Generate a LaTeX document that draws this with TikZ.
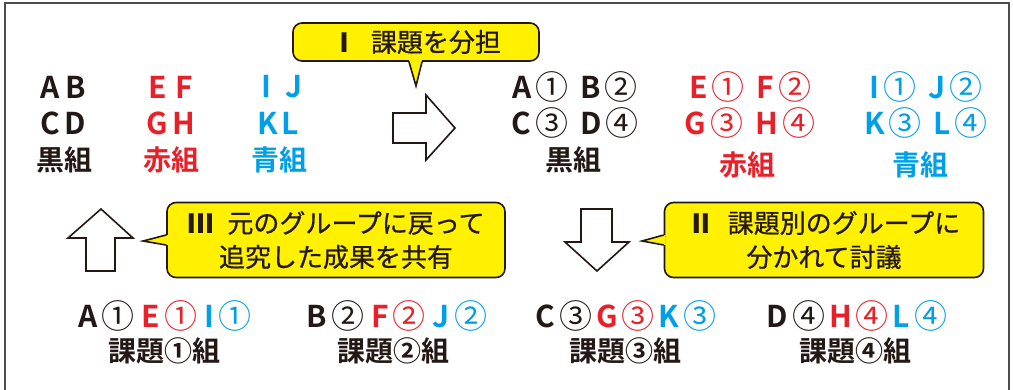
\documentclass[tikz,border=0pt]{standalone}
\usepackage{fontspec}
\setmainfont{Noto Sans CJK JP}[BoldFont={Noto Sans CJK JP Bold}]
\newfontfamily\chuu{Noto Sans CJK JP}[FakeBold=0.6]
\definecolor{kuro}{HTML}{231815}
\definecolor{akairo}{HTML}{E8202A}
\definecolor{aoiro}{HTML}{00A0E9}
\definecolor{kiiro}{HTML}{FFF100}
\definecolor{waku}{HTML}{4D4D4D}
\newcommand{\maru}[1]{\hspace{4pt}\raisebox{-1.5pt}{\fontsize{33}{33}\selectfont\mdseries #1}}
\newcommand{\aka}[1]{\textcolor{akairo}{#1}}
\newcommand{\ao}[1]{\textcolor{aoiro}{#1}}
\newcommand{\bango}[1]{{\bfseries #1}\hspace{14pt}}
\usetikzlibrary{positioning}

\begin{document}
\begin{tikzpicture}[x=1pt,y=-1pt,
  moji/.style={font=\fontsize{30}{32}\selectfont\bfseries, text=kuro, inner sep=0pt},
  kumi/.style={font=\fontsize{28}{30}\selectfont\bfseries, text=kuro, inner sep=0pt},
  fukidashi/.style={draw=kuro, line width=1.6pt, fill=kiiro, rounded corners=9pt,
    font=\fontsize{26}{34}\selectfont\chuu, text=kuro, align=center, inner sep=0pt},
  yajirushi/.style={draw=kuro, line width=1.6pt, fill=white, line join=miter}]
  \useasboundingbox (0,0) rectangle (1013,389);
  \draw[waku, line width=2.5pt] (5,400) |- (1009,3) -- (1009,400);

  % before: three colour groups
  \node[moji] (ab) at (63,87) {A\hspace{6pt}B};
  \node[moji] (cd) at (63,123) {C\hspace{4pt}D};
  \node[kumi] (kuro1) at (64,160) {黒組};
  \node[moji, text=akairo] (ef) at (171,87) {E\hspace{9pt}F};
  \node[moji, text=akairo] (gh) at (171,123) {G\hspace{5pt}H};
  \node[kumi, text=akairo] (aka1) at (171,160) {赤組};
  \node[moji, text=aoiro] (ij) at (282,87) {I\hspace{14pt}J};
  \node[moji, text=aoiro] (kl) at (278,123) {K\hspace{4pt}L};
  \node[kumi, text=aoiro] (ao1) at (279,160) {青組};

  % after step I
  \node[moji] (ab2) at (575,87) {A\maru{①}\hspace{12pt}B\maru{②}};
  \node[moji] (cd2) at (575,123) {C\maru{③}\hspace{12pt}D\maru{④}};
  \node[kumi] (kuro2) at (573,160) {黒組};
  \node[moji, text=akairo] (ef2) at (750,87) {E\maru{①}\hspace{12pt}F\maru{②}};
  \node[moji, text=akairo] (gh2) at (750,123) {G\maru{③}\hspace{12pt}H\maru{④}};
  \node[kumi, text=akairo] (aka2) at (747,165) {赤組};
  \node[moji, text=aoiro] (ij2) at (926,87) {I\maru{①}\hspace{12pt}J\maru{②}};
  \node[moji, text=aoiro] (kl2) at (926,123) {K\maru{③}\hspace{12pt}L\maru{④}};
  \node[kumi, text=aoiro] (ao2) at (920,165) {青組};

  % topic groups
  \node[moji] (g1) at (165,316) {A\maru{①}\hspace{7pt}\aka{E\maru{①}}\hspace{7pt}\ao{I\maru{①}}};
  \node[kumi] (k1) at (164,351) {課題①組};
  \node[moji] (g2) at (397,316) {B\maru{②}\hspace{7pt}\aka{F\maru{②}}\hspace{7pt}\ao{J\maru{②}}};
  \node[kumi] (k2) at (393,351) {課題②組};
  \node[moji] (g3) at (626,316) {C\maru{③}\hspace{4pt}\aka{G\maru{③}}\hspace{4pt}\ao{K\maru{③}}};
  \node[kumi] (k3) at (625,351) {課題③組};
  \node[moji] (g4) at (857,316) {D\maru{④}\hspace{4pt}\aka{H\maru{④}}\hspace{4pt}\ao{L\maru{④}}};
  \node[kumi] (k4) at (855,351) {課題④組};

  % block arrows
  \draw[yajirushi] (393,113) -- (426,113) -- (426,95) -- (455,128) -- (426,160)
    -- (426,143) -- (393,143) -- cycle;
  \draw[yajirushi] (581,209) -- (612,209) -- (612,242) -- (629,242) -- (597,271)
    -- (565,242) -- (581,242) -- cycle;
  \draw[yajirushi] (86,271) -- (86,238) -- (68,238) -- (101,209) -- (133,238)
    -- (115,238) -- (115,271) -- cycle;

  % callouts
  \node[fukidashi, minimum width=246pt, minimum height=38pt] (memo1) at (416,42)
    {\bango{Ⅰ}課題を分担};
  \coordinate (tip1) at (416,86);
  \fill[kiiro] ([xshift=-7pt,yshift=2pt]memo1.south) -- (tip1) -- ([xshift=6pt,yshift=2pt]memo1.south) -- cycle;
  \draw[kuro, line width=1.6pt] ([xshift=-7pt]memo1.south) -- (tip1) -- ([xshift=6pt]memo1.south);

  \node[fukidashi, minimum width=319pt, minimum height=75pt] (memo2) at (824,240)
    {\bango{Ⅱ}課題別のグループに\\分かれて討議};
  \coordinate (tip2) at (642,241);
  \fill[kiiro] ([xshift=2pt,yshift=5pt]memo2.west) -- (tip2) -- ([xshift=2pt,yshift=-5pt]memo2.west) -- cycle;
  \draw[kuro, line width=1.6pt] ([yshift=5pt]memo2.west) -- (tip2) -- ([yshift=-5pt]memo2.west);

  \node[fukidashi, minimum width=338pt, minimum height=75pt] (memo3) at (336,240)
    {\bango{Ⅲ}元のグループに戻って\\追究した成果を共有};
  \coordinate (tip3) at (143,241);
  \fill[kiiro] ([xshift=2pt,yshift=5pt]memo3.west) -- (tip3) -- ([xshift=2pt,yshift=-5pt]memo3.west) -- cycle;
  \draw[kuro, line width=1.6pt] ([yshift=5pt]memo3.west) -- (tip3) -- ([yshift=-5pt]memo3.west);
\end{tikzpicture}
\end{document}
